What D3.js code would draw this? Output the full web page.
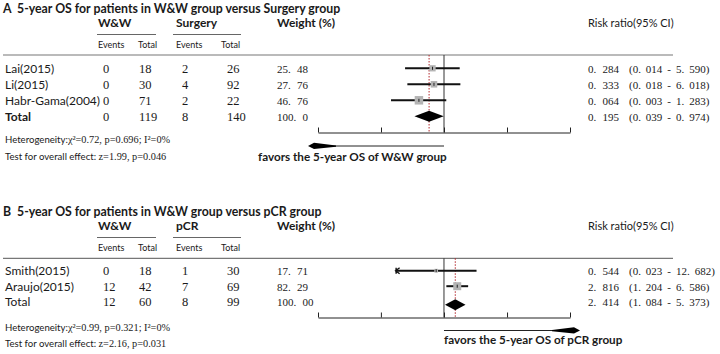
<!DOCTYPE html>
<html>
<head>
<meta charset="utf-8">
<script src="https://cdn.jsdelivr.net/npm/d3@7"></script>
<style>
  body { margin: 0; background: #fff; }
  svg { display: block; }
  .sans { font-family: Lato, "Open Sans", sans-serif; fill: #1a1a1a; }
  .serif { font-family: "Liberation Serif", "DejaVu Serif", serif; fill: #1a1a1a; }
  .bold { font-weight: bold; }
</style>
</head>
<body>
<svg width="720" height="354"></svg>
<script>
// ---- panel A: W&W vs Surgery ----
const studiesA   = ['Lai(2015)', 'Li(2015)', 'Habr-Gama(2004)', 'Total'];
const wwEventsA  = [0, 0, 0, 0];
const wwTotalA   = [18, 30, 71, 119];
const ctlEventsA = [2, 4, 2, 8];
const ctlTotalA  = [26, 92, 22, 140];
const weightA    = ['25.48', '27.76', '46.76', '100.0'];
const rrA        = [0.284, 0.333, 0.064, 0.195];
const lowerA     = [0.014, 0.018, 0.003, 0.039];
const upperA     = [5.590, 6.018, 1.283, 0.974];
const ticksA     = [1e-6, 1e-3, 1, 1e3, 1e6];
const hetA       = ['χ²=0.72, p=0.696; I²=0%', 'z=1.99, p=0.046'];

// ---- panel B: W&W vs pCR ----
const studiesB   = ['Smith(2015)', 'Araujo(2015)', 'Total'];
const wwEventsB  = [0, 12, 12];
const wwTotalB   = [18, 42, 60];
const ctlEventsB = [1, 7, 8];
const ctlTotalB  = [30, 69, 99];
const weightB    = ['17.71', '82.29', '100.00'];
const rrB        = [0.544, 2.816, 2.414];
const lowerB     = [0.023, 1.204, 1.084];
const upperB     = [12.682, 6.586, 5.373];
const ticksB     = [5.4e-5, 7.3e-3, 1, 137, 18600];
const hetB       = ['χ²=0.99, p=0.321; I²=0%', 'z=2.16, p=0.031'];

const svg = d3.select('svg');
const fmt = v => d3.format('.3f')(v).replace('.', '. ');
const dotted = s => s.replace('.', '. ');

const panel = cfg => {
  const g = svg.append('g').attr('transform', `translate(0,${cfg.top})`);
  const rows = cfg.studies.map((s, i) => ({
    study: s, we: cfg.wwEvents[i], wt: cfg.wwTotal[i], ce: cfg.ctlEvents[i], ct: cfg.ctlTotal[i],
    w: cfg.weight[i], rr: cfg.rr[i], lo: cfg.lower[i], hi: cfg.upper[i],
    total: i === cfg.studies.length - 1
  }));

  const x = d3.scaleLog().domain(d3.extent(cfg.ticks)).range([318, 570]);
  const y = d3.scalePoint().domain(cfg.studies)
    .range([cfg.rowY0, cfg.rowY0 + cfg.rowStep * (rows.length - 1)]);
  const size = d3.scaleSqrt().domain([0, d3.max(rows.filter(d => !d.total), d => +d.w)])
    .range([0, cfg.maxBox]);

  // title
  const t = g.append('text').attr('class', 'sans bold').attr('y', 12.5).style('font-size', '12.3px');
  t.append('tspan').attr('x', 3).text(cfg.letter);
  t.append('tspan').attr('x', 17).text(cfg.title);

  // column headers
  const hdr = [['W&W', 98], [cfg.ctlName, 176], ['Weight (%)', 277]];
  g.selectAll('.hdr').data(hdr).enter().append('text')
    .attr('class', 'sans bold hdr').attr('x', d => d[1]).attr('y', 27)
    .style('font-size', '12px').text(d => d[0]);
  g.append('text').attr('class', 'sans').attr('x', 588).attr('y', 27)
    .style('font-size', '11px').text('Risk ratio(95% CI)');
  g.selectAll('.uline').data([[97, 156], [173, 241]]).enter().append('line')
    .attr('x1', d => d[0]).attr('x2', d => d[1]).attr('y1', 34.5).attr('y2', 34.5)
    .attr('stroke', '#666').attr('stroke-width', 1);
  g.selectAll('.sub').data([['Events', 98], ['Total', 138], ['Events', 176], ['Total', 221]])
    .enter().append('text').attr('class', 'sans').attr('x', d => d[1]).attr('y', 48)
    .style('font-size', '9px').text(d => d[0]);
  g.append('line').attr('x1', 3).attr('x2', 673).attr('y1', cfg.lineY).attr('y2', cfg.lineY)
    .attr('stroke', '#777').attr('stroke-width', 1.2);

  // table rows
  const r = g.selectAll('.row').data(rows).enter().append('g')
    .attr('transform', d => `translate(0,${y(d.study)})`);
  r.append('text').attr('class', d => 'sans' + (d.total && cfg.boldTotal ? ' bold' : ''))
    .attr('x', 5).attr('y', 4.5).style('font-size', '12px').text(d => d.study);
  const cols = [['we', 103], ['wt', 139], ['ce', 182], ['ct', 227]];
  cols.forEach(([k, cx]) => {
    r.append('text').attr('class', 'serif').attr('x', cx).attr('y', 4.5)
      .style('font-size', '12.5px').text(d => d[k]);
  });
  r.append('text').attr('class', 'serif').attr('x', 277).attr('y', 4.5)
    .style('font-size', '11px').style('word-spacing', '3.5px').text(d => dotted(d.w));
  r.append('text').attr('class', 'serif').attr('x', 588).attr('y', 4.5)
    .style('font-size', '11px').style('word-spacing', '3.5px').text(d => fmt(d.rr));
  r.append('text').attr('class', 'serif').attr('x', 629).attr('y', 4.5)
    .style('font-size', '11px').style('word-spacing', '2.2px')
    .text(d => `(${fmt(d.lo)} - ${fmt(d.hi)})`);

  // plot: reference lines
  g.append('line').attr('x1', x(1)).attr('x2', x(1)).attr('y1', cfg.lineY).attr('y2', cfg.axisY)
    .attr('stroke', '#333').attr('stroke-width', 1);
  const pooled = rows[rows.length - 1];
  g.append('line').attr('x1', x(pooled.rr)).attr('x2', x(pooled.rr))
    .attr('y1', cfg.lineY).attr('y2', cfg.axisY)
    .attr('stroke', '#b3262b').attr('stroke-width', 1).attr('stroke-dasharray', '1.5,1.5');

  // studies
  const st = rows.filter(d => !d.total);
  g.selectAll('.ci').data(st).enter().append('line')
    .attr('x1', d => x(d.lo)).attr('x2', d => x(d.hi))
    .attr('y1', d => y(d.study)).attr('y2', d => y(d.study))
    .attr('stroke', '#111').attr('stroke-width', 2);
  g.selectAll('.box').data(st).enter().append('rect')
    .attr('x', d => x(d.rr) - size(+d.w) / 2).attr('y', d => y(d.study) - size(+d.w) / 2)
    .attr('width', d => size(+d.w)).attr('height', d => size(+d.w))
    .attr('fill', '#b4b4b4');
  g.selectAll('.pt').data(st).enter().append('line')
    .attr('x1', d => x(d.rr)).attr('x2', d => x(d.rr))
    .attr('y1', d => y(d.study) - 1.5).attr('y2', d => y(d.study) + 1.5)
    .attr('stroke', '#222').attr('stroke-width', 1);
  // truncated lower ends
  g.selectAll('.cap').data(st.filter((d, i) => cfg.lowArrow[i])).enter().append('path')
    .attr('d', d => {
      const x0 = x(d.lo), y0 = y(d.study);
      return `M${x0 + 4},${y0 - 3}L${x0},${y0}L${x0 + 4},${y0 + 3}M${x0 + 0.5},${y0 - 3}V${y0 + 3}`;
    })
    .attr('fill', 'none').attr('stroke', '#111').attr('stroke-width', 1.4);

  // pooled diamond
  const dy = y(pooled.study) + cfg.diamondDy;
  g.append('path')
    .attr('d', `M${x(pooled.lo)},${dy}L${x(pooled.rr)},${dy - 5.5}L${x(pooled.hi)},${dy}L${x(pooled.rr)},${dy + 5.5}Z`)
    .attr('fill', '#000');

  // axis
  const ax = g.append('g').attr('transform', `translate(0,${cfg.axisY})`)
    .call(d3.axisBottom(x).tickValues(cfg.ticks).tickSize(-5).tickSizeOuter(0).tickFormat(() => ''));
  ax.selectAll('path, line').attr('stroke', '#222');

  // favours arrow
  const a0 = x(1), a1 = cfg.arrowEnd, ay = cfg.arrowY, dir = Math.sign(a1 - a0);
  g.append('line').attr('x1', a0).attr('x2', a1 - dir * 20).attr('y1', ay).attr('y2', ay)
    .attr('stroke', '#222').attr('stroke-width', 1);
  g.append('path')
    .attr('d', `M${a1 - dir * 28},${ay - 0.5}L${a1 - dir * 6},${ay - 3.2}L${a1},${ay}L${a1 - dir * 6},${ay + 3}L${a1 - dir * 28},${ay + 0.8}Z`)
    .attr('fill', '#000');
  g.append('text').attr('class', 'sans bold').attr('x', cfg.favorsX).attr('y', cfg.favorsY)
    .style('font-size', '11.7px').text(cfg.favors);

  // heterogeneity
  const h1 = g.append('text').attr('x', 5).attr('y', cfg.hetY);
  h1.append('tspan').attr('class', 'sans').style('font-size', '9.6px').text('Heterogeneity:');
  h1.append('tspan').attr('class', 'serif').style('font-size', '10.3px').text(cfg.het[0]);
  const h2 = g.append('text').attr('x', 5).attr('y', cfg.testY);
  h2.append('tspan').attr('class', 'sans').style('font-size', '9.6px').text('Test for overall effect: ');
  h2.append('tspan').attr('class', 'serif').style('font-size', '10.3px').text(cfg.het[1]);
};

panel({
  letter: 'A', title: '5-year OS for patients in W&W group versus Surgery group', ctlName: 'Surgery',
  studies: studiesA, wwEvents: wwEventsA, wwTotal: wwTotalA, ctlEvents: ctlEventsA, ctlTotal: ctlTotalA,
  weight: weightA, rr: rrA, lower: lowerA, upper: upperA, ticks: ticksA, het: hetA,
  lowArrow: [false, false, false], boldTotal: true, maxBox: 8.5,
  favors: 'favors the 5-year OS of W&W group',
  top: 0, lineY: 55, rowY0: 68.3, rowStep: 16, diamondDy: 0, axisY: 132.5,
  arrowY: 146, arrowEnd: 308, favorsX: 258, favorsY: 160.5, hetY: 143, testY: 160
});

panel({
  letter: 'B', title: '5-year OS for patients in W&W group versus pCR group', ctlName: 'pCR',
  studies: studiesB, wwEvents: wwEventsB, wwTotal: wwTotalB, ctlEvents: ctlEventsB, ctlTotal: ctlTotalB,
  weight: weightB, rr: rrB, lower: lowerB, upper: upperB, ticks: ticksB, het: hetB,
  lowArrow: [true, false], boldTotal: false, maxBox: 8,
  favors: 'favors the 5-year OS of pCR group',
  top: 203, lineY: 55.3, rowY0: 67.7, rowStep: 15.5, diamondDy: 3, axisY: 114.5,
  arrowY: 127.5, arrowEnd: 580, favorsX: 444, favorsY: 140.5, hetY: 127.5, testY: 144
});
</script>
</body>
</html>
